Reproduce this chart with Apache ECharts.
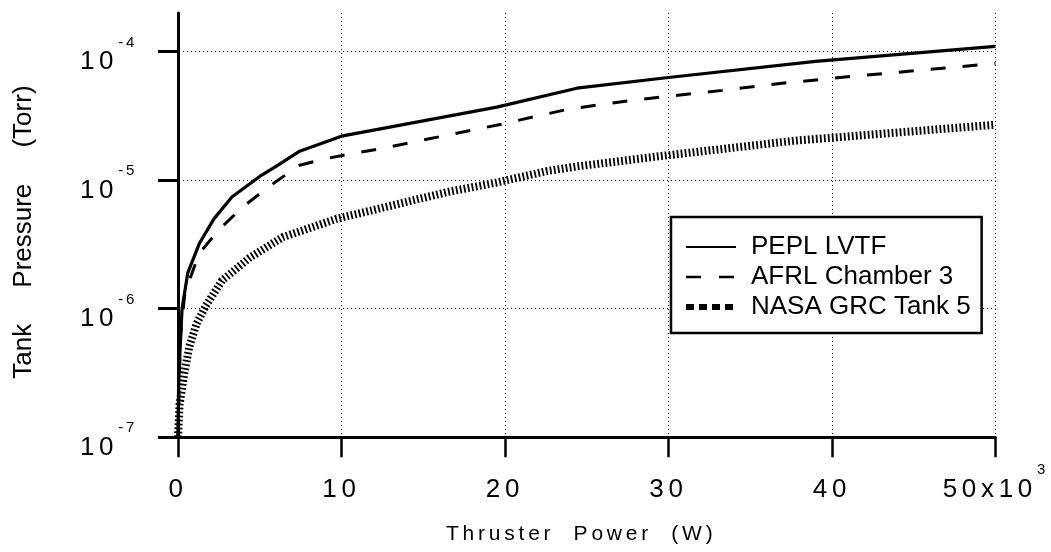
<!DOCTYPE html>
<html>
<head>
<meta charset="utf-8">
<script src="https://cdn.jsdelivr.net/npm/echarts@6/dist/echarts.min.js"></script>
<style>html,body{margin:0;padding:0;background:#fff}#c{width:1051px;height:552px}</style>
</head>
<body>
<div id="c"></div>
<script>
// ---- data (Thruster power in W, tank pressure in Torr) ----
const seriesNames = ['PEPL LVTF', 'AFRL Chamber 3', 'NASA GRC Tank 5'];
const peplLVTF = [[0,1.0e-7],[40,2.5e-7],[100,4.0e-7],[250,1.0e-6],[600,1.9e-6],[1300,3.2e-6],[2200,5.0e-6],[3300,7.4e-6],[5000,1.07e-5],[6000,1.28e-5],[7400,1.67e-5],[10000,2.2e-5],[19500,3.7e-5],[24400,5.2e-5],[30000,6.3e-5],[39000,8.4e-5],[50000,1.1e-4]];
const afrlChamber3 = [[0,1.0e-7],[150,6.0e-7],[400,1.25e-6],[700,1.66e-6],[1300,2.7e-6],[2500,4.1e-6],[3900,6.1e-6],[5500,8.8e-6],[7400,1.3e-5],[8800,1.45e-5],[10500,1.6e-5],[12400,1.76e-5],[19800,2.73e-5],[21900,3.14e-5],[23800,3.55e-5],[25800,3.88e-5],[27700,4.16e-5],[30000,4.5e-5],[33300,5.0e-5],[37300,5.74e-5],[41100,6.4e-5],[45000,7.1e-5],[50000,8.1e-5]];
const nasaGRCTank5 = [[0,1.0e-7],[100,1.8e-7],[400,3.2e-7],[700,5.1e-7],[1150,7.7e-7],[1700,1.05e-6],[2700,1.66e-6],[4400,2.5e-6],[6400,3.6e-6],[9700,5.0e-6],[16500,8.1e-6],[19500,9.6e-6],[22600,1.18e-5],[24400,1.28e-5],[29700,1.55e-5],[37700,2.03e-5],[50000,2.7e-5]];
const xTickValues = [0, 10000, 20000, 30000, 40000, 50000];
const yTickValues = [1e-7, 1e-6, 1e-5, 1e-4];

// tracked (letter-spaced) text for the fonts marked with "Arial"
(function () {
  const proto = CanvasRenderingContext2D.prototype;
  if (!('letterSpacing' in proto)) return;
  const d = Object.getOwnPropertyDescriptor(proto, 'font');
  Object.defineProperty(proto, 'font', {
    configurable: true,
    get() { return d.get.call(this); },
    set(v) {
      d.set.call(this, v);
      const m = /([\d.]+)px/.exec(v);
      this.letterSpacing = (m && /Arial/.test(v)) ? (parseFloat(m[1]) * 0.18).toFixed(2) + 'px' : '0px';
    }
  });
})();

const TRK = 'Arial, "Liberation Sans"';
const PLAIN = '"Liberation Sans"';
const rich = {
  b: { fontSize: 26, lineHeight: 26, padding: [21, 0, 0, 0], fontFamily: TRK, color: '#000' },
  s: { fontSize: 15, lineHeight: 15, padding: [7, 0, 25, 0], fontFamily: TRK, color: '#000' }
};
const dotted = { color: '#000', width: 1, type: [1, 3] };

const chart = echarts.init(document.getElementById('c'), null, { renderer: 'canvas' });
chart.setOption({
  animation: false,
  backgroundColor: '#fff',
  grid: { left: 167, right: 49, top: 13, bottom: 107 },
  legend: {
    orient: 'vertical', left: 671, top: 217,
    padding: [17, 11, 13, 12], itemGap: 4, itemWidth: 50, itemHeight: 14,
    backgroundColor: '#fff', borderColor: '#000', borderWidth: 2.5, borderRadius: 0,
    itemStyle: { opacity: 0, borderWidth: 0 },
    textStyle: { fontSize: 26, fontFamily: PLAIN, color: '#000', padding: [0, 0, 0, 10] },
    data: [
      { name: seriesNames[0] },
      { name: seriesNames[1], lineStyle: { type: [15, 18], width: 2.5 } },
      { name: seriesNames[2], lineStyle: { type: [8, 5], width: 6 } }
    ]
  },
  xAxis: {
    type: 'value', min: -670, max: 50000,
    name: 'Thruster  Power  (W)', nameLocation: 'middle', nameGap: 85,
    nameTextStyle: { fontSize: 21, fontFamily: TRK, color: '#000' },
    axisLine: { show: true, onZero: false, lineStyle: { color: '#000', width: 3 } },
    axisTick: { show: true, inside: false, length: 20, customValues: xTickValues, lineStyle: { color: '#000', width: 2.5 } },
    axisLabel: {
      customValues: xTickValues, margin: 29, verticalAlign: 'top', rich: rich,
      formatter: v => v === 50000 ? '{b|50x10}{s|3}' : '{b|' + (v / 1000) + '}'
    },
    splitLine: { show: true, lineStyle: dotted }
  },
  yAxis: {
    type: 'log', logBase: 10, min: 1e-7, max: 2e-4,
    name: 'Tank     Pressure     (Torr)', nameLocation: 'middle', nameGap: 130, nameRotate: 90,
    nameTextStyle: { fontSize: 26, fontFamily: PLAIN, color: '#000', padding: [0, 14, 0, 0] },
    axisLine: { show: true, lineStyle: { color: '#000', width: 3 } },
    axisTick: { show: true, inside: false, length: 20, customValues: yTickValues, lineStyle: { color: '#000', width: 3 } },
    axisLabel: {
      customValues: yTickValues, margin: 30, verticalAlign: 'middle', align: 'right', rich: rich,
      formatter: v => '{b|10}{s|' + Math.round(Math.log10(v)) + '}'
    },
    splitLine: { show: true, lineStyle: dotted },
    minorTick: { show: false }, minorSplitLine: { show: false }
  },
  series: [
    { name: seriesNames[0], type: 'line', data: peplLVTF, symbol: 'none', showSymbol: false, z: 5,
      itemStyle: { color: '#000' }, lineStyle: { color: '#000', width: 3.2, type: 'solid' } },
    { name: seriesNames[1], type: 'line', data: afrlChamber3, symbol: 'none', showSymbol: false, z: 4,
      itemStyle: { color: '#000' }, lineStyle: { color: '#000', width: 3, type: [15, 17] } },
    { name: seriesNames[2], type: 'line', data: nasaGRCTank5, symbol: 'none', showSymbol: false, z: 3,
      itemStyle: { color: '#000' }, lineStyle: { color: '#000', width: 8, type: [1.8, 2.2], cap: 'butt' } }
  ]
});
</script>
</body>
</html>
